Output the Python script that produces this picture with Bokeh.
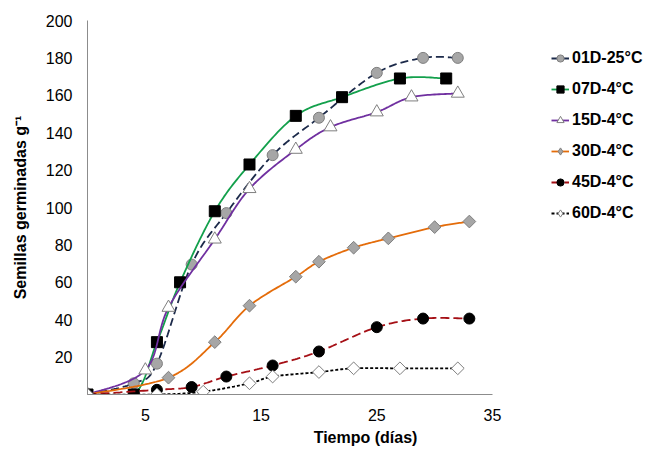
import numpy as np
from bokeh.plotting import figure
from bokeh.models import Range1d, FixedTicker, Legend, LegendItem, Title
from bokeh.embed import file_html
from bokeh.resources import INLINE

# ---- data ----
series_names = ["01D-25°C", "07D-4°C", "15D-4°C", "30D-4°C", "45D-4°C", "60D-4°C"]

d01_x = [0, 4, 6, 9, 12, 16, 20, 25, 29, 32]
d01_y = [0, 6, 16.5, 69.5, 97, 128, 148, 172, 180, 180]

d07_x = [0, 4, 6, 8, 11, 14, 18, 22, 27, 31]
d07_y = [0, 0, 28, 60, 98, 123, 149, 159, 169, 169]

d15_x = [0, 5, 7, 11, 14, 18, 21, 25, 28, 32]
d15_y = [0, 13, 46.5, 83, 110, 131, 143, 151, 159, 161]

d30_x = [0, 7, 11, 14, 18, 20, 23, 26, 30, 33]
d30_y = [0, 9, 28, 47.5, 63, 71, 78.5, 83.5, 89.5, 92.5]

d45_x = [0, 6, 9, 12, 16, 20, 25, 29, 33]
d45_y = [0, 2.5, 4, 9.6, 15.5, 23, 36, 40.6, 40.6]

d60_x = [0, 6, 10, 14, 16, 20, 23, 27, 32]
d60_y = [0, 0, 1.5, 6, 9.6, 12, 14, 14, 14]

x_ticks = [5, 15, 25, 35]
y_ticks = [20, 40, 60, 80, 100, 120, 140, 160, 180, 200]

FONT = "Liberation Sans"


def smooth(xs, ys, n=24):
    """Excel-like smoothed line (Catmull-Rom Bezier through the data points)."""
    P = np.column_stack([xs, ys]).astype(float)
    m = len(P)
    ox, oy = [P[0, 0]], [P[0, 1]]
    for i in range(m - 1):
        p0 = P[i - 1] if i > 0 else P[i]
        p1 = P[i]
        p2 = P[i + 1]
        p3 = P[i + 2] if i + 2 < m else P[i + 1]
        c1 = p1 + (p2 - p0) / 6.0
        c2 = p2 - (p3 - p1) / 6.0
        t = np.linspace(0, 1, n + 1)[1:]
        b = ((1 - t) ** 3)[:, None] * p1 + (3 * (1 - t) ** 2 * t)[:, None] * c1 \
            + (3 * (1 - t) * t ** 2)[:, None] * c2 + (t ** 3)[:, None] * p2
        ox.extend(b[:, 0])
        oy.extend(b[:, 1])
    return ox, oy


# frame spans to the right edge so the legend can sit inside it; the x axis
# line itself is bounded to 0..35
p = figure(width=643, height=449, output_backend="svg", toolbar_location=None,
           x_range=Range1d(0, 48.05), y_range=Range1d(0, 200),
           min_border_left=87, min_border_right=0, min_border_top=20, min_border_bottom=55)
p.outline_line_color = None
p.grid.grid_line_color = None
p.background_fill_color = "white"

# axes
p.xaxis.ticker = FixedTicker(ticks=x_ticks)
p.yaxis.ticker = FixedTicker(ticks=y_ticks)
p.xaxis.bounds = (0, 35)
for ax in (p.xaxis[0], p.yaxis[0]):
    ax.axis_line_color = "#8c8c8c"
    ax.axis_line_width = 1
    ax.major_tick_out = 0
    ax.major_tick_in = 0
    ax.minor_tick_out = 0
    ax.minor_tick_in = 0
    ax.major_label_text_font = FONT
    ax.major_label_text_font_size = "16px"
    ax.major_label_text_color = "black"
    ax.axis_label_text_font = FONT
    ax.axis_label_text_font_size = "16px"
    ax.axis_label_text_font_style = "bold"
    ax.axis_label_text_color = "black"
p.yaxis.major_label_standoff = 15
p.xaxis.major_label_standoff = 14
p.yaxis.axis_label = "Semillas germinadas g\u207b\u00b9"
p.yaxis.axis_label_standoff = 14

p.add_layout(Title(text="Tiempo (días)", align="center", offset=-47,
                   text_font=FONT, text_font_size="16px", text_font_style="bold",
                   text_color="black", standoff=7), "below")

GRAY_FILL = "#a6a6a6"
GRAY_LINE = "#7f7f7f"

# (x, y, line colour, dash, plot marker, size, angle, fill, marker line, legend marker)
specs = [
    (d01_x, d01_y, "#1c2a4a", "8 4", "circle", 11, 0.0, GRAY_FILL, GRAY_LINE, "circle"),
    (d07_x, d07_y, "#13a04c", "solid", "square", 11, 0.0, "black", "black", "square"),
    (d15_x, d15_y, "#7030a0", "solid", "triangle", 13, 0.0, "white", GRAY_LINE, "triangle"),
    (d30_x, d30_y, "#e46c0a", "solid", "square", 9, np.pi / 4, GRAY_FILL, GRAY_LINE, "diamond"),
    (d45_x, d45_y, "#a50f15", "9 4", "circle", 11, 0.0, "black", "black", "circle"),
    (d60_x, d60_y, "#000000", "3 2", "square", 9, np.pi / 4, "white", GRAY_LINE, "diamond"),
]

items = []
for name, (xs, ys, lc, dash, marker, size, ang, fc, mc, lmark) in zip(series_names, specs):
    sx, sy = smooth(xs, ys)
    r_line = p.line(sx, sy, line_color=lc, line_width=1.8, line_dash=dash)
    if lmark != marker:
        # diamond used for the legend swatch; drawn underneath (and fully covered by)
        # the larger rotated squares that show the points in the plot
        r_leg = p.scatter(xs, ys, marker=lmark, size=11,
                          fill_color=fc, line_color=mc, line_width=1)
    r_mark = p.scatter(xs, ys, marker=marker, size=size, angle=ang,
                       fill_color=fc, line_color=mc, line_width=1)
    rends = [r_line, r_leg] if lmark != marker else [r_line, r_mark]
    items.append(LegendItem(label=name, renderers=rends))

legend = Legend(items=items, location=(464, 169),
                label_text_font=FONT, label_text_font_size="16px",
                label_text_font_style="bold", label_text_color="black",
                glyph_width=18, glyph_height=24, label_height=24,
                label_standoff=3, spacing=7, padding=0, margin=0,
                border_line_alpha=0, background_fill_alpha=0)
p.add_layout(legend, "center")

open("out.html", "w").write(file_html(p, INLINE))
